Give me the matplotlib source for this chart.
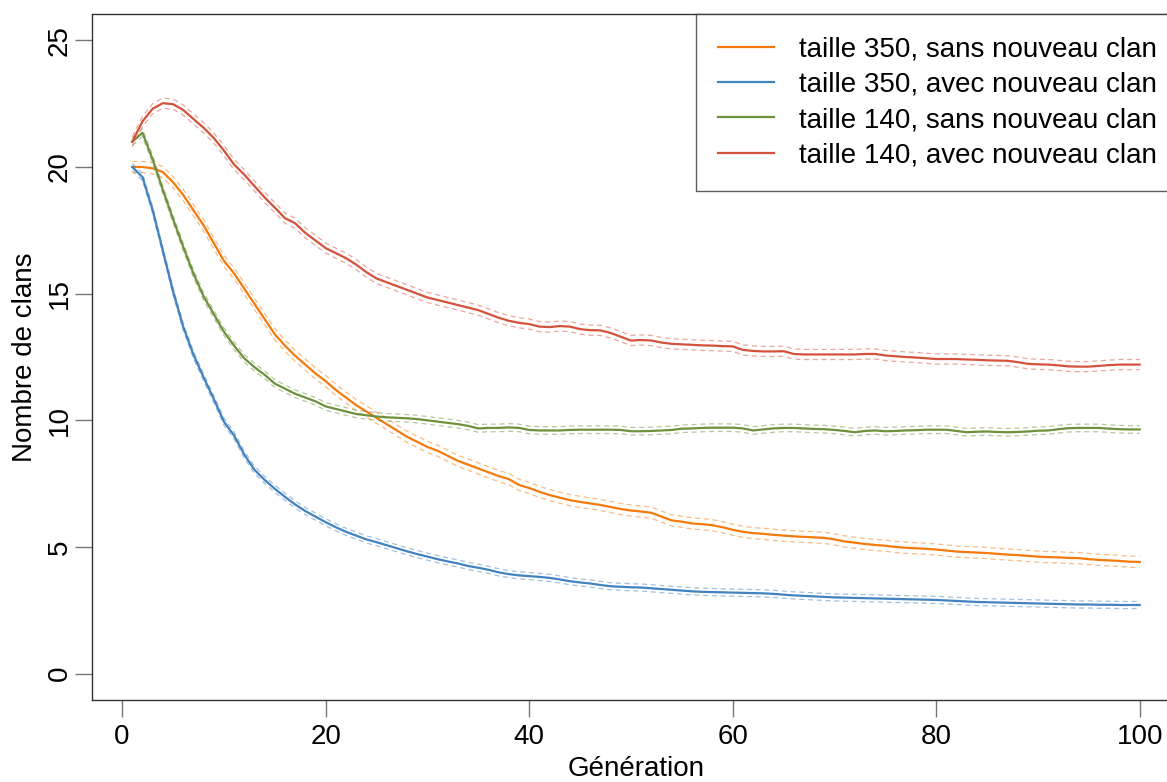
import numpy as np
import matplotlib
matplotlib.use("Agg")
import matplotlib.pyplot as plt

plt.rcParams['font.family'] = ['Liberation Sans', 'DejaVu Sans']

generations = list(range(1, 101))

labels = ["taille 350, sans nouveau clan", "taille 350, avec nouveau clan",
          "taille 140, sans nouveau clan", "taille 140, avec nouveau clan"]

t350_sans = [20.0, 20.0, 19.95, 19.8, 19.4, 18.9, 18.3, 17.7, 17.0, 16.3,
             15.8, 15.2, 14.6, 14.0, 13.4, 12.95, 12.55, 12.2, 11.85, 11.55,
             11.2, 10.9, 10.6, 10.35, 10.1, 9.85, 9.6, 9.35, 9.15, 8.95,
             8.8, 8.6, 8.4, 8.25, 8.1, 7.95, 7.8, 7.68, 7.45, 7.33,
             7.18, 7.05, 6.95, 6.85, 6.78, 6.72, 6.66, 6.58, 6.5, 6.44,
             6.4, 6.35, 6.2, 6.05, 6.0, 5.93, 5.9, 5.86, 5.78, 5.68,
             5.6, 5.55, 5.52, 5.48, 5.45, 5.42, 5.4, 5.38, 5.36, 5.3,
             5.22, 5.17, 5.12, 5.08, 5.05, 5.0, 4.97, 4.95, 4.93, 4.9,
             4.86, 4.82, 4.8, 4.78, 4.76, 4.73, 4.7, 4.68, 4.65, 4.62,
             4.6, 4.59, 4.57, 4.56, 4.52, 4.49, 4.47, 4.45, 4.42, 4.41]

t350_avec = [20.0, 19.6, 18.3, 16.7, 15.1, 13.7, 12.6, 11.7, 10.85, 9.95,
             9.4, 8.65, 8.05, 7.65, 7.3, 6.98, 6.68, 6.42, 6.2, 5.98,
             5.78, 5.6, 5.45, 5.3, 5.19, 5.07, 4.95, 4.83, 4.72, 4.62,
             4.52, 4.43, 4.35, 4.25, 4.18, 4.1, 4.0, 3.93, 3.88, 3.85,
             3.82, 3.78, 3.72, 3.65, 3.6, 3.56, 3.5, 3.45, 3.43, 3.41,
             3.4, 3.37, 3.34, 3.31, 3.28, 3.25, 3.23, 3.22, 3.21, 3.2,
             3.19, 3.18, 3.17, 3.15, 3.12, 3.09, 3.07, 3.05, 3.03, 3.01,
             3.0, 2.99, 2.98, 2.97, 2.96, 2.95, 2.94, 2.93, 2.92, 2.91,
             2.89, 2.87, 2.85, 2.83, 2.82, 2.81, 2.8, 2.79, 2.78, 2.77,
             2.76, 2.75, 2.74, 2.73, 2.73, 2.72, 2.72, 2.71, 2.71, 2.71]

t140_sans = [21.0, 21.35, 20.3, 19.1, 17.95, 16.85, 15.8, 14.9, 14.2, 13.5,
             12.95, 12.45, 12.1, 11.8, 11.45, 11.25, 11.05, 10.9, 10.75, 10.55,
             10.45, 10.35, 10.25, 10.2, 10.15, 10.12, 10.1, 10.08, 10.05, 10.0,
             9.95, 9.9, 9.85, 9.78, 9.68, 9.7, 9.7, 9.72, 9.7, 9.62,
             9.6, 9.6, 9.6, 9.62, 9.63, 9.63, 9.63, 9.63, 9.62, 9.57,
             9.57, 9.58, 9.6, 9.62, 9.67, 9.68, 9.7, 9.71, 9.71, 9.71,
             9.68, 9.6, 9.64, 9.68, 9.7, 9.7, 9.68, 9.66, 9.65, 9.62,
             9.58, 9.53, 9.58, 9.6, 9.57, 9.58, 9.6, 9.61, 9.63, 9.63,
             9.63, 9.58, 9.53, 9.55, 9.56, 9.54, 9.53, 9.54, 9.56, 9.59,
             9.6, 9.65, 9.69, 9.7, 9.7, 9.7, 9.67, 9.65, 9.64, 9.64]

t140_avec = [21.0, 21.8, 22.3, 22.52, 22.48, 22.25, 21.9, 21.55, 21.15, 20.65,
             20.1, 19.7, 19.25, 18.8, 18.4, 17.98, 17.78, 17.4, 17.1, 16.8,
             16.6, 16.4, 16.15, 15.85, 15.6, 15.45, 15.3, 15.15, 15.0, 14.85,
             14.75, 14.65, 14.55, 14.45, 14.35, 14.2, 14.05, 13.93, 13.85, 13.8,
             13.7, 13.68, 13.72, 13.7, 13.6, 13.56, 13.55, 13.45, 13.3, 13.15,
             13.17, 13.15, 13.07, 13.02, 13.0, 12.98, 12.96, 12.95, 12.93, 12.92,
             12.78, 12.74, 12.72, 12.72, 12.73, 12.62, 12.6, 12.6, 12.6, 12.6,
             12.6, 12.6, 12.62, 12.62, 12.56, 12.53, 12.5, 12.48, 12.45, 12.42,
             12.42, 12.42, 12.4, 12.39, 12.37, 12.36, 12.35, 12.3, 12.23, 12.21,
             12.2, 12.17, 12.13, 12.12, 12.12, 12.15, 12.18, 12.2, 12.2, 12.2]

# confidence half-widths (dashed bands) per series
ci_half = [0.22, 0.14, 0.15, 0.2]

colors = ["#F57A0C", "#4282C0", "#6D913C", "#D4523C"]

xticks = [0, 20, 40, 60, 80, 100]
yticks = [0, 5, 10, 15, 20, 25]

FS = 20
W, H = 1167, 782
fig = plt.figure(figsize=(W / 100, H / 100), dpi=100)
ax = fig.add_axes([92 / W, (H - 700) / H, 1088 / W, 686 / H])

series = [t350_sans, t350_avec, t140_sans, t140_avec]
x = np.array(generations)
for s, c, ci, lab in zip(series, colors, ci_half, labels):
    y = np.array(s)
    ax.plot(x, y - ci, color=c, lw=0.9, ls=(0, (4, 3)), alpha=0.5)
    ax.plot(x, y + ci, color=c, lw=0.9, ls=(0, (4, 3)), alpha=0.5)
    ax.plot(x, y, color=c, lw=1.6, label=lab)

ax.set_xlim(-2.96, 103.96)
ax.set_ylim(-1.04, 26.04)
ax.set_xticks(xticks)
ax.set_yticks(yticks)
ax.set_xticklabels([str(v) for v in xticks], fontsize=FS)
ax.set_yticklabels([str(v) for v in yticks], fontsize=FS, rotation=90, va='center')
ax.tick_params(axis='both', direction='out', length=12.3, width=1.0, color='#777777')
ax.tick_params(axis='x', pad=5)
ax.tick_params(axis='y', pad=1.5)

for sp in ax.spines.values():
    sp.set_color('#333333')
    sp.set_linewidth(1.0)

ax.set_xlabel("Génération", fontsize=FS, va='baseline')
ax.xaxis.set_label_coords(0.5, (700 - 776) / 686)
ax.set_ylabel("Nombre de clans", fontsize=FS, va='center')
ax.yaxis.set_label_coords((25 - 92) / 1088, 0.5)

leg = ax.legend(loc='upper left', bbox_to_anchor=((696 - 92) / 1088, 1.0),
                fontsize=FS, frameon=True, fancybox=False, edgecolor='#333333',
                handlelength=2.0, handletextpad=0.9, labelspacing=0.34,
                borderpad=0.8, borderaxespad=0)
leg.get_frame().set_linewidth(1.0)

fig.savefig("out.png", dpi=100)
